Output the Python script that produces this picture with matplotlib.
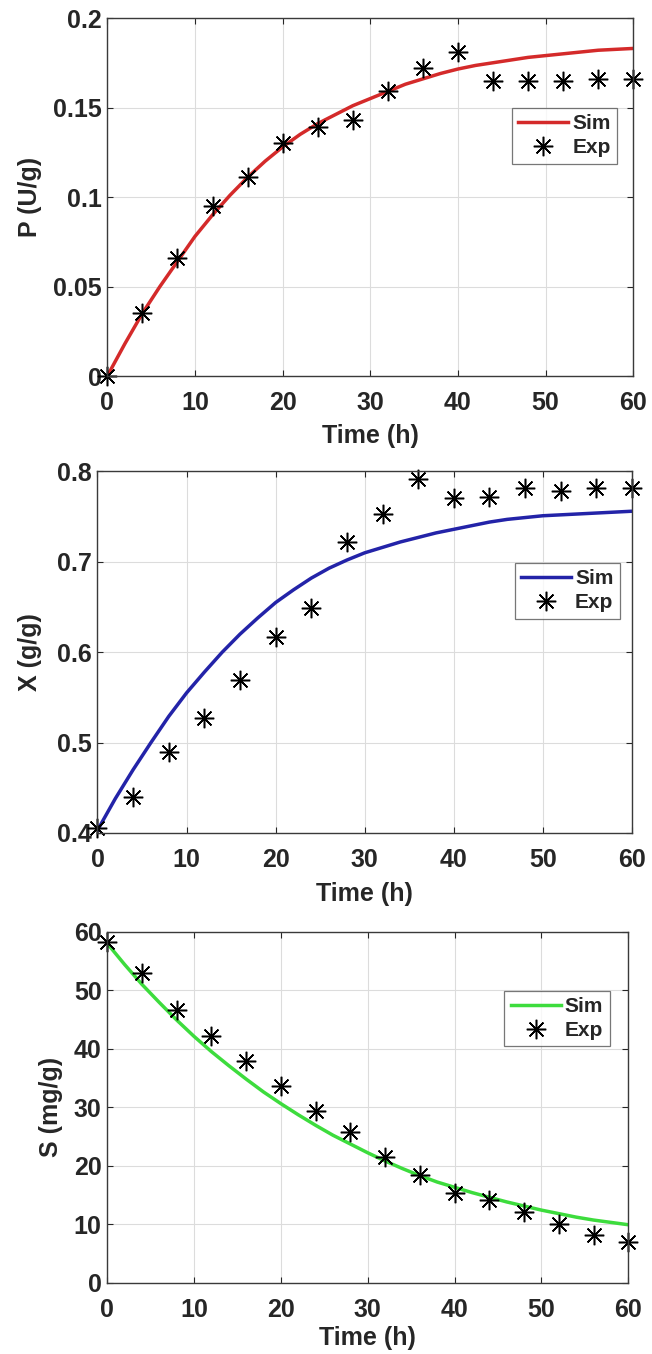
import matplotlib
matplotlib.use('Agg')
import matplotlib.pyplot as plt

plt.rcParams['font.family'] = ['Liberation Sans', 'DejaVu Sans']
plt.rcParams['font.weight'] = 'bold'

# experimental points, every 4 h
t_exp = [0, 4, 8, 12, 16, 20, 24, 28, 32, 36, 40, 44, 48, 52, 56, 60]
p_exp = [0.0, 0.035, 0.066, 0.095, 0.111, 0.130, 0.139, 0.143, 0.159, 0.172,
         0.181, 0.165, 0.165, 0.165, 0.166, 0.166]
x_exp = [0.405, 0.440, 0.490, 0.527, 0.569, 0.617, 0.649, 0.722, 0.753, 0.792,
         0.771, 0.772, 0.782, 0.778, 0.782, 0.782]
s_exp = [58.2, 53.0, 46.6, 42.2, 37.9, 33.6, 29.4, 25.8, 21.4, 18.4,
         15.3, 14.1, 12.0, 10.0, 8.1, 6.9]

# simulated curves, every 2 h
t_sim = [0, 2, 4, 6, 8, 10, 12, 14, 16, 18, 20, 22, 24, 26, 28, 30,
         32, 34, 36, 38, 40, 42, 44, 46, 48, 50, 52, 54, 56, 58, 60]
p_sim = [0.0, 0.018, 0.035, 0.050, 0.064, 0.078, 0.090, 0.101, 0.111, 0.120,
         0.128, 0.135, 0.141, 0.146, 0.151, 0.155, 0.159, 0.163, 0.166, 0.169,
         0.1715, 0.1735, 0.175, 0.1765, 0.178, 0.179, 0.180, 0.181, 0.182,
         0.1825, 0.183]
x_sim = [0.403, 0.438, 0.470, 0.500, 0.529, 0.555, 0.578, 0.600, 0.620, 0.638,
         0.655, 0.669, 0.682, 0.693, 0.702, 0.710, 0.716, 0.722, 0.727, 0.732,
         0.736, 0.740, 0.744, 0.747, 0.749, 0.751, 0.752, 0.753, 0.754, 0.755,
         0.756]
s_sim = [58.0, 54.4, 51.0, 47.9, 44.9, 42.1, 39.5, 37.1, 34.8, 32.6,
         30.6, 28.7, 26.9, 25.2, 23.7, 22.2, 20.8, 19.5, 18.3, 17.2,
         16.3, 15.4, 14.6, 13.8, 13.1, 12.4, 11.8, 11.2, 10.7, 10.3, 9.9]

txt = '#262626'
star = (8, 2, 0)


def style_axes(ax, ylim, yticks, yticklabels, ylabel, ylab_x, xlab_y):
    ax.set_xlim(0, 60)
    ax.set_ylim(*ylim)
    ax.set_xticks([0, 10, 20, 30, 40, 50, 60])
    ax.set_yticks(yticks)
    ax.set_yticklabels(yticklabels)
    ax.grid(True, color='#dcdcdc', linewidth=0.8)
    ax.set_axisbelow(True)
    ax.tick_params(direction='in', top=True, right=True, length=4, width=0.8,
                   labelsize=18, colors=txt)
    ax.tick_params(axis='x', pad=11)
    ax.tick_params(axis='y', pad=4)
    for sp in ax.spines.values():
        sp.set_color('#3a3a3a')
        sp.set_linewidth(1.0)
    ax.set_xlabel('Time (h)', fontsize=18, fontweight='bold', color=txt)
    ax.set_ylabel(ylabel, fontsize=18, fontweight='bold', color=txt)
    ax.xaxis.set_label_coords(0.5, xlab_y)
    ax.yaxis.set_label_coords(ylab_x, 0.5)


def add_legend(ax, anchor):
    leg = ax.legend(loc='upper right', bbox_to_anchor=anchor, fontsize=15,
                    frameon=True, fancybox=False, edgecolor='#555555',
                    handlelength=2.4, handletextpad=0.2, borderpad=0.3,
                    labelspacing=0.25, borderaxespad=0)
    leg.get_frame().set_linewidth(0.9)
    for t in leg.get_texts():
        t.set_color(txt)
        t.set_fontweight('bold')


fig = plt.figure(figsize=(6.52, 13.54), dpi=100)

ax1 = fig.add_axes([0.1646, 0.7223, 0.8067, 0.2644])
ax1.plot(t_sim, p_sim, color='#d42a2a', linewidth=2.5, label='Sim')
ax1.plot(t_exp, p_exp, linestyle='none', marker=star, markersize=14,
         markeredgewidth=1.1, color='black', label='Exp', clip_on=False)
style_axes(ax1, (0, 0.2), [0, 0.05, 0.1, 0.15, 0.2],
           ['0', '0.05', '0.1', '0.15', '0.2'], 'P (U/g)', -0.124, -0.134)
add_legend(ax1, (0.969, 0.749))

ax2 = fig.add_axes([0.1495, 0.3848, 0.8198, 0.2670])
ax2.plot(t_sim, x_sim, color='#2323a8', linewidth=2.5, label='Sim')
ax2.plot(t_exp, x_exp, linestyle='none', marker=star, markersize=14,
         markeredgewidth=1.1, color='black', label='Exp', clip_on=False)
style_axes(ax2, (0.4, 0.8), [0.4, 0.5, 0.6, 0.7, 0.8],
           ['0.4', '0.5', '0.6', '0.7', '0.8'], 'X (g/g)', -0.104, -0.136)
add_legend(ax2, (0.977, 0.747))

ax3 = fig.add_axes([0.1644, 0.0527, 0.7992, 0.2592])
ax3.plot(t_sim, s_sim, color='#3ddc3d', linewidth=2.5, label='Sim')
ax3.plot(t_exp, s_exp, linestyle='none', marker=star, markersize=14,
         markeredgewidth=1.1, color='black', label='Exp', clip_on=False)
style_axes(ax3, (0, 60), [0, 10, 20, 30, 40, 50, 60],
           ['0', '10', '20', '30', '40', '50', '60'], 'S (mg/g)', -0.085, -0.123)
add_legend(ax3, (0.964, 0.832))

fig.savefig('out.png', dpi=100)
